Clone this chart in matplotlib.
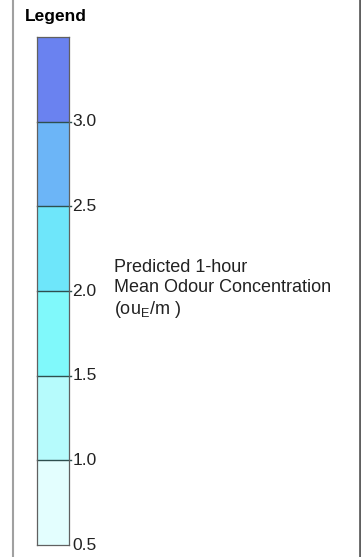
import matplotlib.pyplot as plt

plt.rcParams['font.family'] = ['Liberation Sans', 'DejaVu Sans']

# class breaks of the odour concentration legend (ou_E/m3)
levels = [0.5, 1.0, 1.5, 2.0, 2.5, 3.0, 3.5]
tick_labels = ["0.5", "1.0", "1.5", "2.0", "2.5", "3.0"]
band_colors = ["#e3fefe", "#b6fbfc", "#80f9fb", "#6ee6fa", "#6cb5f7", "#6a82f0"]

W, H = 361, 557
fig = plt.figure(figsize=(W / 100, H / 100), dpi=100)

# frame lines at the panel edges
fig.add_artist(plt.Line2D([13 / W, 13 / W], [0, 1], color="#a0a0a0", lw=1.5))
fig.add_artist(plt.Line2D([359.5 / W, 359.5 / W], [0, 1], color="#606060", lw=2))

fig.text(25 / W, 1 - 16 / H, "Legend", fontsize=12.5, fontweight="bold", va="center", ha="left")

bar_top, bar_bot = 37, 545
ax = fig.add_axes([37 / W, 1 - bar_bot / H, 32 / W, (bar_bot - bar_top) / H])
for lo, hi, c in zip(levels[:-1], levels[1:], band_colors):
    ax.bar(0.5, hi - lo, bottom=lo, width=1.0, color=c, edgecolor="none")

# class boundaries run slightly past the bar as tick marks
for v in levels[1:-1]:
    ax.plot([0, 1.06], [v, v], color="#2e4f4f", lw=1.0, clip_on=False)

ax.set_xlim(0, 1)
ax.set_ylim(levels[0], levels[-1])
ax.set_xticks([])
ax.set_yticks([])
for s in ax.spines.values():
    s.set_color("#606060")
    s.set_linewidth(0.9)

for v, t in zip(levels[:-1], tick_labels):
    ax.text(1.1, v, t, transform=ax.get_yaxis_transform(), fontsize=12.5,
            va="center", ha="left", color="#222222")

title_lines = ["Predicted 1-hour", "Mean Odour Concentration", r"(ou$_\mathregular{E}$/m )"]
for y, line in zip([267, 288, 310], title_lines):
    fig.text(114 / W, 1 - y / H, line, fontsize=13, va="center", ha="left", color="#222222")

fig.savefig("out.png", dpi=100)
